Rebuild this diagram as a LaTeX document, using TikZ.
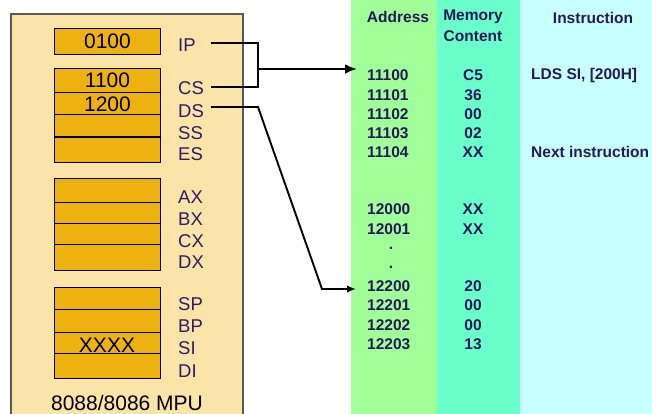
\documentclass[tikz,border=0pt]{standalone}
\usepackage{fontspec}
\setmainfont{Liberation Sans}
\usetikzlibrary{arrows.meta}
\definecolor{mpubg}{RGB}{250,228,168}
\definecolor{regfill}{RGB}{238,178,16}
\definecolor{lblcol}{RGB}{45,28,105}
\definecolor{txtcol}{RGB}{40,24,90}
\definecolor{colA}{RGB}{160,255,152}
\definecolor{colB}{RGB}{106,255,202}
\definecolor{colC}{RGB}{200,255,255}
\tikzset{
  reg/.style={draw=black, line width=1pt, fill=regfill, minimum width=106pt, inner sep=0pt, anchor=north west, font=\fontsize{21}{21}\selectfont},
  lbl/.style={anchor=west, inner sep=0pt, text=lblcol, font=\fontsize{18.5}{18.5}\selectfont},
  mem/.style={inner sep=0pt, text=txtcol, font=\bfseries\fontsize{15.5}{15.5}\selectfont},
  addr/.style={mem, anchor=west},
  cont/.style={mem},
  conn/.style={line width=2.6pt, line join=miter},
  conn2/.style={line width=1.9pt, line join=miter},
}
\begin{document}
\begin{tikzpicture}[x=1pt,y=-1pt]
\useasboundingbox (0,0) rectangle (652,414);
\clip (0,0) rectangle (652,414);
% memory columns
\fill[colA] (351,0) rectangle (437,414);
\fill[colB] (437,0) rectangle (520,414);
\fill[colC] (520,0) rectangle (652,414);
% MPU box
\draw[draw=black!65, line width=1.3pt, fill=mpubg] (11,14) rectangle (243,430);
% registers
\node[reg, minimum height=26pt] (rIP) at (54,28) {0100};
\node[reg, minimum height=24.5pt] (rCS) at (54,68) {1100};
\node[reg, minimum height=22pt] (rDS) at (54,92.5) {1200};
\node[reg, minimum height=22pt] (rSS) at (54,114.5) {};
\node[reg, minimum height=25pt] (rES) at (54,137) {};
\node[reg, minimum height=24pt] (rAX) at (54,178) {};
\node[reg, minimum height=21pt] (rBX) at (54,202) {};
\node[reg, minimum height=21pt] (rCX) at (54,223) {};
\node[reg, minimum height=26pt] (rDX) at (54,244) {};
\node[reg, minimum height=22pt] (rSP) at (54,287) {};
\node[reg, minimum height=23pt] (rBP) at (54,309) {};
\node[reg, minimum height=21pt] (rSI) at (54,332) {};
\node[reg, minimum height=25pt] (rDI) at (54,353) {};
\node[inner sep=0pt, font=\fontsize{21}{21}\selectfont] (xxxx) at (107,345) {XXXX};
% labels
\node[lbl] (lIP) at (178,45) {IP};
\node[lbl] (lCS) at (178,88) {CS};
\node[lbl] (lDS) at (178,111) {DS};
\node[lbl] (lSS) at (178,133) {SS};
\node[lbl] (lES) at (178,154) {ES};
\node[lbl] (lAX) at (178,197) {AX};
\node[lbl] (lBX) at (178,219) {BX};
\node[lbl] (lCX) at (178,241) {CX};
\node[lbl] (lDX) at (178,262) {DX};
\node[lbl] (lSP) at (178,304) {SP};
\node[lbl] (lBP) at (178,326) {BP};
\node[lbl] (lSI) at (178,348) {SI};
\node[lbl] (lDI) at (178,371) {DI};
\node[inner sep=0pt, font=\fontsize{21}{21}\selectfont] (mpu) at (127,403) {8088/8086 MPU};
% headers
\node[mem] (hAddr) at (398,17) {Address};
\node[mem] (hMem) at (473,17) {Memory};
\node[mem] (hCont) at (473,36) {Content};
\node[mem] (hInstr) at (593,18) {Instruction};
% addresses
\node[addr] (a11100) at (367,75) {11100};
\node[addr] (a11101) at (367,95) {11101};
\node[addr] (a11102) at (367,114) {11102};
\node[addr] (a11103) at (367,133) {11103};
\node[addr] (a11104) at (367,152) {11104};
\node[addr] (a12000) at (367,209) {12000};
\node[addr] (a12001) at (367,229) {12001};
\node[mem] (dot1) at (391,248) {.};
\node[mem] (dot2) at (391,267) {.};
\node[addr] (a12200) at (367,286) {12200};
\node[addr] (a12201) at (367,305) {12201};
\node[addr] (a12202) at (367,325) {12202};
\node[addr] (a12203) at (367,344) {12203};
% contents
\node[cont] (c11100) at (473,75) {C5};
\node[cont] (c11101) at (473,95) {36};
\node[cont] (c11102) at (473,114) {00};
\node[cont] (c11103) at (473,133) {02};
\node[cont] (c11104) at (473,152) {XX};
\node[cont] (c12000) at (473,209) {XX};
\node[cont] (c12001) at (473,229) {XX};
\node[cont] (c12200) at (473,286) {20};
\node[cont] (c12201) at (473,305) {00};
\node[cont] (c12202) at (473,325) {00};
\node[cont] (c12203) at (473,344) {13};
% instructions
\node[addr] (i1) at (531,75) {LDS SI, [200H]};
\node[addr] (i2) at (531,152) {Next instruction};
% connectors
\coordinate (ipS) at (211,43);
\coordinate (csS) at (211,87);
\coordinate (dsS) at (211,107);
\coordinate (jn) at (258,69);
\coordinate (tA) at (357,69);
\coordinate (bend) at (322,289);
\coordinate (tB) at (356,289);
\draw[conn] (ipS) -| (jn) |- (csS);
\draw[conn, -{Latex[length=12pt,width=10pt]}] (jn) -- (tA);
\draw[conn2, -{Latex[length=9pt,width=7.5pt]}] (dsS) -- (258,107) -- (bend) -- (tB);
\end{tikzpicture}
\end{document}
